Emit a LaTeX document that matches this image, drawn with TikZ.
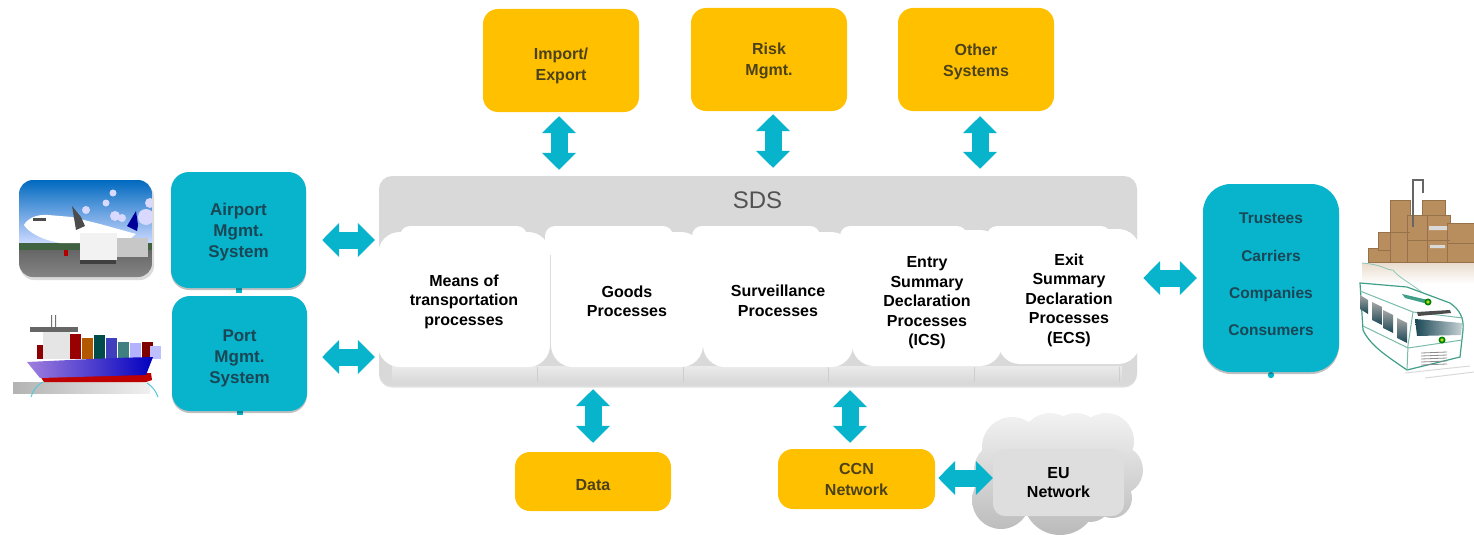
\documentclass[tikz,border=0pt]{standalone}
\usepackage{fontspec}
\setmainfont{Liberation Sans}
\usetikzlibrary{arrows.meta,shadows,calc}
\definecolor{orangeb}{HTML}{FFC000}
\definecolor{tealb}{HTML}{08B3CC}
\definecolor{teald}{HTML}{1A4755}
\definecolor{oranged}{HTML}{4C421A}
\definecolor{sdsgray}{HTML}{D9D9D9}
\definecolor{boxbrown}{HTML}{B98E5E}
\definecolor{boxdark}{HTML}{96714A}
\definecolor{trainline}{HTML}{3F9F88}
\newcommand{\dnrule}[1]{\rule{0pt}{#1}}
\tikzset{
  softshadow/.style={drop shadow={shadow xshift=0pt,shadow yshift=-2pt,opacity=.25,fill=black}},
  orangebox/.style={rectangle,fill=orangeb,rounded corners=15pt,inner sep=0pt,align=center,text=oranged,font=\fontsize{16}{21}\selectfont\bfseries},
  tealbox/.style={rectangle,fill=tealb,rounded corners=18pt,inner sep=0pt,align=center,text=teald,font=\fontsize{17}{21}\selectfont\bfseries,softshadow},
  whitebox/.style={rectangle,fill=white,rounded corners=22pt,inner sep=0pt,align=center,text=black,font=\fontsize{16}{19.5}\selectfont\bfseries},
  tabbox/.style={rectangle,fill=white,rounded corners=10pt,inner sep=0pt,minimum height=30pt},
  fat/.style={draw=tealb,line width=17pt,{Triangle[width=33pt,length=17pt]}-{Triangle[width=33pt,length=17pt]}},
  stub/.style={fill=tealb},
}
\begin{document}
\begin{tikzpicture}[x=1pt,y=-1pt]
\useasboundingbox (0,0) rectangle (1474,535);

% --- SDS panel
\node[rectangle,fill=sdsgray,rounded corners=13pt,minimum width=758pt,minimum height=210pt,inner sep=0pt,drop shadow={shadow xshift=0pt,shadow yshift=-1.5pt,opacity=.12,fill=black}] (sds) at (758,281) {};
\node[text=black!68,font=\fontsize{24}{24}\selectfont] (sdstitle) at (757.5,200) {SDS};
\shade[top color=white!45!sdsgray,bottom color=sdsgray] (392,366) rectangle (1122,382);
\foreach \x in {537,683,828,974,1119}{\fill[sdsgray!95!black] (\x,367) rectangle (\x+1,382);}
\node[tabbox,minimum width=127pt] (tab1) at (463.5,241) {};
\node[tabbox,minimum width=128pt] (tab2) at (609,241) {};
\node[tabbox,minimum width=128pt] (tab3) at (756,241) {};
\node[tabbox,minimum width=127pt] (tab4) at (903.5,241) {};
\node[tabbox,minimum width=124pt] (tab5) at (1049,241) {};

\node[whitebox,minimum width=172pt,minimum height=135pt] (means) at (464,299.5) {\dnrule{15.5pt}Means of\\transportation\\processes};
\node[whitebox,minimum width=152pt,minimum height=135pt] (goods) at (627,299.5) {\dnrule{15.5pt}Goods\\Processes};
\node[whitebox,minimum width=150pt,minimum height=135pt] (surv) at (778,299.5) {\dnrule{14.5pt}Surveillance\\Processes};
\node[whitebox,minimum width=150pt,minimum height=136pt] (entry) at (927,298) {\dnrule{21pt}Entry\\Summary\\Declaration\\Processes\\(ICS)};
\node[whitebox,minimum width=142pt,minimum height=135pt] (exit) at (1069,296.5) {\dnrule{19pt}Exit\\Summary\\Declaration\\Processes\\(ECS)};

% --- orange boxes
\node[orangebox,minimum width=156pt,minimum height=103pt] (imp) at (561,60.5) {\dnrule{22pt}Import/\\Export};
\node[orangebox,minimum width=156pt,minimum height=103pt] (risk) at (769,59.5) {\dnrule{14pt}Risk\\Mgmt.};
\node[orangebox,minimum width=156pt,minimum height=103pt] (other) at (976,59.5) {\dnrule{16pt}Other\\Systems};
\node[orangebox,minimum width=156pt,minimum height=59pt] (data) at (593,481.5) {\dnrule{19pt}Data};
\node[orangebox,minimum width=157pt,minimum height=60pt] (ccn) at (856.5,479) {CCN\\Network};

% --- teal boxes
\fill[stub] (235.5,287) rectangle (241.5,293);
\fill[stub] (236.5,410) rectangle (242.5,415);
\fill[stub] (1271,375) circle (3.2);
\node[tealbox,minimum width=135pt,minimum height=116pt] (air) at (238.5,230) {\dnrule{16.5pt}Airport\\Mgmt.\\System};
\node[tealbox,minimum width=135pt,minimum height=115pt] (port) at (239.5,353.5) {\dnrule{22pt}Port\\Mgmt.\\System};
\node[tealbox,rounded corners=28pt,minimum width=136pt,minimum height=188pt,font=\fontsize{15.5}{37.4}\selectfont\bfseries] (users) at (1271,278) {Trustees\\Carriers\\Companies\\Consumers\rule[-7pt]{0pt}{1pt}};

% --- cloud and EU network
\shade[top color=black!5,bottom color=black!27]
  (1012,447) circle (30) (1050,442) circle (29) (1076,440) circle (27) (1106,441) circle (28)
  (1118,470) circle (25) (1112,498) circle (20) (1060,498) circle (37) (1001,500) circle (29)
  (1002,470) circle (28) (1060,470) circle (45) (1090,500) circle (22);
\node[rectangle,fill=black!13,rounded corners=12pt,minimum width=131pt,minimum height=67pt,inner sep=0pt,align=center,font=\fontsize{16}{19.5}\selectfont\bfseries,text=black] (eu) at (1058.5,482.5) {EU\\Network};

% --- double arrows
\draw[fat,shorten <=4pt,shorten >=6pt] ([xshift=-2pt]imp.south) -- ([xshift=-2pt]imp.south |- sds.north);
\draw[fat,shorten <=3pt,shorten >=8pt] ([xshift=4pt]risk.south) -- ([xshift=4pt]risk.south |- sds.north);
\draw[fat,shorten <=5pt,shorten >=7pt] ([xshift=4pt]other.south) -- ([xshift=4pt]other.south |- sds.north);
\draw[fat,shorten <=3pt,shorten >=9pt] (sds.south -| data.north) -- (data.north);
\draw[fat,shorten <=4pt,shorten >=6pt] ([xshift=-6.5pt]sds.south -| ccn.north) -- ([xshift=-6.5pt]ccn.north);
\draw[fat,shorten <=16pt,shorten >=3pt] ([yshift=-10pt]air.east) -- ([yshift=-10pt]air.east -| means.west);
\draw[fat,shorten <=15pt,shorten >=3pt] ([yshift=-3.5pt]port.east) -- ([yshift=-3.5pt]port.east -| means.west);
\draw[fat,shorten <=3pt,shorten >=6pt] (exit.east |- users.west) -- (users.west);
\draw[fat,shorten <=3pt] ([yshift=1pt]ccn.east) -- ([yshift=1pt]ccn.east -| eu.west);

% --- airplane photo
\fill[black!35,opacity=.4] (20,183) [rounded corners=14pt] rectangle (154,280);
\begin{scope}
\clip[rounded corners=14pt] (19,180) rectangle (152,277);
\shade[top color=blue!45!cyan!75!black,bottom color=cyan!25!blue!20!white] (19,180) rectangle (152,243);
\fill[green!18!black!75] (19,243) rectangle (152,250);
\shade[top color=black!60,bottom color=black!48] (19,250) rectangle (152,277);
\fill[white!85!blue] (113,193) circle (3.5) (106,203) circle (3.5) (86,210) circle (4) (146,217) circle (8) (150,203) circle (5) (115,216) circle (5) (122,218) circle (4);
\fill[blue!60!black] (136,211) -- (127,226) -- (137,231) -- (138,225) -- cycle;
\fill[white] (24,225) .. controls (27,219) and (36,214) .. (48,215) -- (72,217) -- (100,224) -- (136,234) -- (125,243) -- (60,243) .. controls (42,240) and (28,232) .. (24,225) -- cycle;
\fill[black!70] (72,206) -- (76,230) -- (85,226) -- (81,217) -- cycle;
\fill[black!70] (33,218) rectangle (46,221);
\fill[black!5] (80,233) rectangle (117,260);
\fill[black!22] (117,238) rectangle (148,257);
\fill[black!75] (80,260) rectangle (116,264);
\fill[red!70!black] (64,250) rectangle (68,256);
\end{scope}

% --- ship
\shade[left color=black!30,right color=black!6] (13,382) rectangle (150,393);
\draw[tealb!70,line width=1pt] (31,397) .. controls (33,390) and (37,385) .. (43,382);
\draw[tealb!70,line width=1pt] (147,383) .. controls (152,386) and (156,391) .. (158,397);
\foreach \x/\y/\c in {37/345/red!55!black,47/340/blue!45!black,58/338/orange!60!black,70/334/red!60!black,82/338/orange!70!black,94/335/teal!60!black,106/338/blue!50!gray,118/342/teal!50!gray,130/343/blue!30!white,142/342/red!50!black,150/346/blue!25!white}
  {\fill[\c] (\x,\y) rectangle (\x+10.5,359);}
\fill[black!10] (43,332) rectangle (70,359);
\fill[black!60] (30,327) rectangle (78,332);
\fill[black!55] (51,315) rectangle (52,327) (55,315) rectangle (56,327);
\fill[red!75!black] (40,376) -- (151,373) -- (152,380) -- (146,382) -- (44,382) -- cycle;
\shade[left color=purple!35!blue!50!white,right color=blue!75!black] (27,362) -- (113,358) -- (153,357) -- (146,375) -- (40,378) -- cycle;

% --- boxes
\shade[top color=boxbrown!30,bottom color=white] (1362,263) rectangle (1474,284);
\foreach \a/\b/\c/\d in {1368/248/1390/262,1378/232/1393/250,1390/200/1410/262,1407/215/1427/262,1422/200/1445/215,1427/215/1450/262,1447/223/1474/262}
  {\fill[boxbrown] (\a,\b) rectangle (\c,\d); \draw[boxdark,line width=.6pt] (\a,\b) rectangle (\c,\d);}
\draw[boxdark,line width=.6pt] (1390,232) -- (1410,232) (1407,240) -- (1450,240) (1447,243) -- (1474,243);
\fill[white!85!black] (1429,226) rectangle (1447,230) (1430,245) rectangle (1445,248);
\draw[black!60,line width=1.6pt] (1413,227) -- (1413,180) -- (1423,180) -- (1423,193);

% --- train
\draw[trainline!60,line width=.8pt] (1362,263) .. controls (1385,265) and (1385,270) .. (1393,270) .. controls (1400,280) and (1425,290) .. (1430,302);
\draw[trainline,line width=1.2pt,fill=white] (1360,283) -- (1407,287) -- (1450,303) .. controls (1460,310) and (1464,318) .. (1463,330) -- (1460,357) -- (1407,370) .. controls (1385,355) and (1370,345) .. (1363,330) -- cycle;
\draw[trainline!70,line width=1pt] (1360,291) -- (1413,312) -- (1463,318) (1413,312) -- (1408,345) -- (1407,370) (1363,326) -- (1408,348) -- (1462,340);
\foreach \a/\b/\w/\h in {1360/295/8/14,1372/302/10/18,1383/310/10/18,1397/318/10/20}
  {\shade[top color=black!35,bottom color=teald] (\a,\b) -- (\a+\w,\b+5) -- (\a+\w,\b+\h+5) -- (\a,\b+\h) -- cycle;}
\shade[left color=teald,right color=teald!25!white] (1415,319) -- (1462,323) -- (1461,335) -- (1417,336) -- cycle;
\fill[black!70] (1417,312) -- (1450,310) -- (1451,313) -- (1418,316) -- cycle;
\fill[trainline] (1402,294) -- (1428,300) -- (1428,304) -- (1405,298) -- cycle;
\fill[green!50!black] (1428,302) circle (3.5);
\fill[yellow!70!green] (1428,302) circle (1.8);
\fill[green!50!black] (1442,340) circle (3.5);
\fill[yellow!70!green] (1442,340) circle (1.8);
\foreach \y in {353,356,359,362,365}{\draw[black!45,line width=.8pt] (1421,\y) -- (1447,\y-1);}
\draw[black!15,line width=1pt] (1405,373) -- (1470,366) (1425,378) -- (1474,372);
\end{tikzpicture}
\end{document}
